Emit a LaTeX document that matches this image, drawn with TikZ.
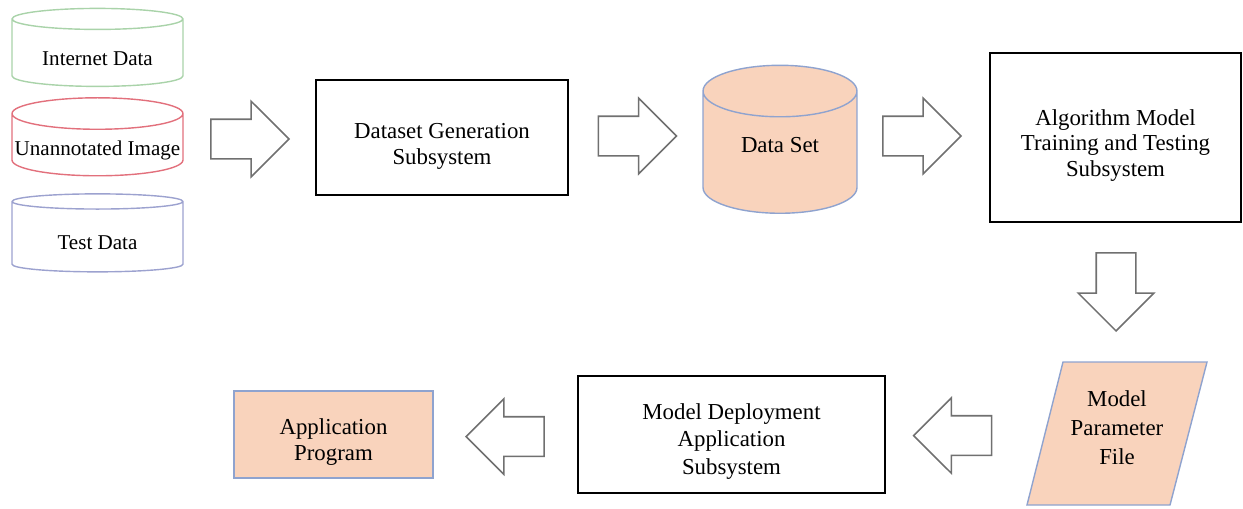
\documentclass[tikz,border=0pt]{standalone}
\usepackage{fontspec}
\setmainfont{Liberation Serif}
\usepackage{tikz}
\usepackage{xcolor}
\usetikzlibrary{shapes, shapes.geometric, shapes.arrows, positioning}

\definecolor{peach}{HTML}{F9D3BC}
\definecolor{edgeblue}{HTML}{8FA3CF}
\definecolor{dbgreen}{HTML}{A9D3A9}
\definecolor{dbred}{HTML}{E2707C}
\definecolor{dbblue}{HTML}{9CA2CF}
\definecolor{arrowgray}{HTML}{707070}

\begin{document}
\begin{tikzpicture}[x=0.02cm, y=-0.02cm,
    font=\fontsize{13pt}{14.5pt}\selectfont,
    db/.style={cylinder, shape border rotate=90, draw, line width=0.8pt, aspect=0.19,
        minimum width=3.42cm, minimum height=1.56cm, inner sep=0pt,
        font=\fontsize{12pt}{14pt}\selectfont, text height=14pt},
    sub/.style={rectangle, draw=black, line width=1.4pt, align=center},
    bigarrow/.style={single arrow, draw=arrowgray, line width=0.9pt, fill=white,
        minimum height=1.56cm, minimum width=1.48cm, single arrow head extend=0.36cm,
        inner xsep=0pt, inner ysep=0.38cm}]
                \useasboundingbox (0,0) rectangle (1243,508);

                % sources
                \node[db, draw=dbgreen] (inet) at (97.5,53) {Internet Data};
                \node[db, draw=dbred] (unann) at (97.5,145) {Unannotated Image};
                \node[db, draw=dbblue] (test) at (97.5,237) {Test Data};

                % top row
                \node[bigarrow] (a1) at (240,139) {};
                \node[sub, minimum width=5.04cm, minimum height=2.3cm, text height=33pt] (gen) at (442,137.5) {Dataset Generation\\Subsystem};
                \node[bigarrow] (a2) at (627.5,136) {};
                \node[db, draw=edgeblue, fill=peach, minimum width=3.08cm, minimum height=2.96cm, aspect=0.66,
                    font=\fontsize{13pt}{14.5pt}\selectfont, text height=9pt, text depth=9pt] (set) at (780,152.5) {Data Set};
                \node[bigarrow] (a3) at (912,136) {};
                \node[sub, minimum width=5.02cm, minimum height=3.38cm, text height=47pt] (algo) at (1115.5,137.5) {Algorithm Model\\Training and Testing\\Subsystem};

                % down to the parameter file
                \node[bigarrow, rotate=-90] (a4) at (1116,282) {};
                \filldraw[draw=edgeblue, fill=peach, line width=0.8pt] (1063,362) -- (1207,362) -- (1170,505) -- (1027,505) -- cycle;
                \node[align=center, font=\fontsize{13pt}{16.5pt}\selectfont] (param) at (1117,428) {Model\\Parameter\\File};

                % bottom row
                \node[bigarrow, rotate=180] (a5) at (962.5,435.5) {};
                \node[sub, minimum width=6.14cm, minimum height=2.34cm, font=\fontsize{13pt}{15.6pt}\selectfont, text height=48pt] (deploy) at (731.5,434.5) {Model Deployment\\Application\\Subsystem};
                \node[bigarrow, rotate=180] (a6) at (515,436.5) {};
                \node[rectangle, draw=edgeblue, fill=peach, line width=0.8pt, align=center, text height=32pt,
                    minimum width=3.98cm, minimum height=1.74cm] (app) at (333.5,434.5) {Application\\Program};
            \end{tikzpicture}
\end{document}
